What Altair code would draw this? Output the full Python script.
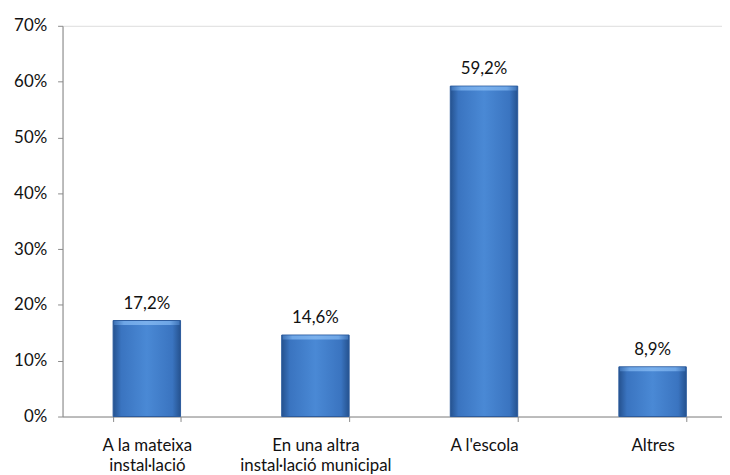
import altair as alt
import pandas as pd

categories = ["A la mateixa|instal·lació", "En una altra|instal·lació municipal", "A l'escola", "Altres"]
values = [17.2, 14.6, 59.2, 8.9]
value_labels = ["17,2%", "14,6%", "59,2%", "8,9%"]
y_ticks = [0, 10, 20, 30, 40, 50, 60, 70]

df = pd.DataFrame({"cat": categories, "val": values, "lab": value_labels})

FONT = "Lato"
FS = 17
AXIS_COLOR = "#8a8a8a"
TEXT_COLOR = "#111111"

grad = alt.Gradient(
    gradient="linear",
    stops=[
        alt.GradientStop(color="#25528f", offset=0),
        alt.GradientStop(color="#3a74c0", offset=0.12),
        alt.GradientStop(color="#4a89d5", offset=0.5),
        alt.GradientStop(color="#3a74c0", offset=0.88),
        alt.GradientStop(color="#25528f", offset=1),
    ],
    x1=0, x2=1, y1=0, y2=0,
)

bevel = alt.Gradient(
    gradient="linear",
    stops=[
        alt.GradientStop(color="#3f74b8", offset=0),
        alt.GradientStop(color="#6ea6e6", offset=0.15),
        alt.GradientStop(color="#7ab0ec", offset=0.5),
        alt.GradientStop(color="#6ea6e6", offset=0.85),
        alt.GradientStop(color="#3f74b8", offset=1),
    ],
    x1=0, x2=1, y1=0, y2=0,
)

x_scale = alt.Scale(range=[0, 680], paddingInner=0.6, paddingOuter=0.3)

x_enc = alt.X(
    "cat:N",
    sort=categories,
    scale=x_scale,
    axis=alt.Axis(
        title=None,
        labelAngle=0,
        labelExpr="split(datum.label, '|')",
        labelFont=FONT,
        labelFontSize=FS,
        labelColor=TEXT_COLOR,
        labelLineHeight=20,
        labelPadding=16,
        tickBand="extent",
        tickSize=5,
        tickColor=AXIS_COLOR,
        domainColor=AXIS_COLOR,
        labelBaseline="top",
    ),
)

y_enc = alt.Y(
    "val:Q",
    scale=alt.Scale(domain=[0, 70], nice=False),
    axis=alt.Axis(
        title=None,
        values=y_ticks,
        labelExpr="datum.value + '%'",
        labelFont=FONT,
        labelFontSize=FS,
        labelColor=TEXT_COLOR,
        labelPadding=11,
        tickSize=5,
        tickColor=AXIS_COLOR,
        domainColor=AXIS_COLOR,
        grid=False,
    ),
)

bars = alt.Chart(df).mark_bar(color=grad, stroke="#2a5a9c", strokeWidth=1).encode(x=x_enc, y=y_enc)

tops = alt.Chart(df).mark_tick(
    color=bevel, thickness=4, size=66, yOffset=2.5, opacity=1
).encode(x=alt.X("cat:N", sort=categories), y="val:Q")

texts = alt.Chart(df).mark_text(
    font=FONT, fontSize=FS, color=TEXT_COLOR, baseline="middle", dy=-17
).encode(x=alt.X("cat:N", sort=categories), y="val:Q", text="lab:N")

chart = (
    alt.layer(bars, tops, texts)
    .properties(
        width=665,
        height=394,
        padding={"left": 55, "top": 16, "right": 0, "bottom": 57},
        autosize=alt.AutoSizeParams(type="none"),
    )
    .configure_view(stroke=None)
    .configure(background="white")
)

chart.save("out.html", embed_options={"renderer": "svg", "actions": False})
